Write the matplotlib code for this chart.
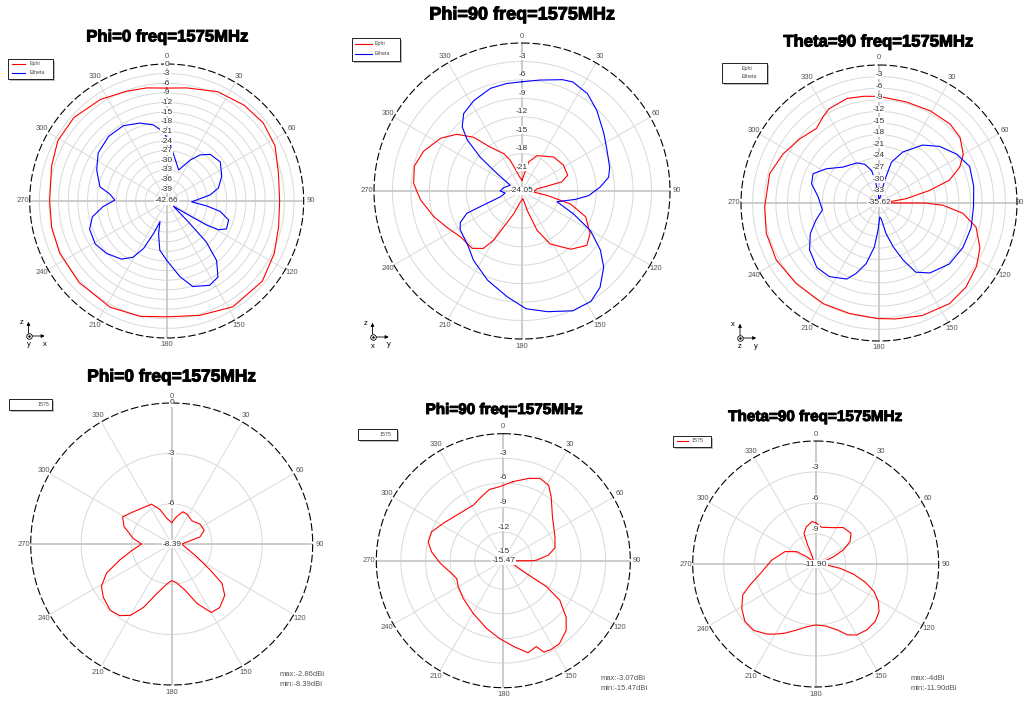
import numpy as np
import matplotlib
matplotlib.use("Agg")
import matplotlib.pyplot as plt
from matplotlib.patches import Rectangle, FancyArrowPatch
from matplotlib.lines import Line2D
from matplotlib import transforms
import matplotlib.patheffects as pe

W, H = 1025, 709
plt.rcParams['font.family'] = ['Liberation Sans', 'DejaVu Sans']

# ---- textos y escalas ----
TITLES = ["Phi=0 freq=1575MHz", "Phi=90 freq=1575MHz", "Theta=90 freq=1575MHz",
          "Phi=0 freq=1575MHz", "Phi=90 freq=1575MHz", "Theta=90 freq=1575MHz"]
R_MIN = [-42.66, -24.05, -35.62, -8.39, -15.47, -11.90]
RINGS = [[0, -3, -6, -9, -12, -15, -18, -21, -24, -27, -30, -33, -36, -39],
         [0, -3, -6, -9, -12, -15, -18, -21],
         [0, -3, -6, -9, -12, -15, -18, -21, -24, -27, -30, -33],
         [0, -3, -6],
         [0, -3, -6, -9, -12, -15],
         [0, -3, -6, -9]]
THETA_LABELS = [0, 30, 60, 90, 120, 150, 180, 210, 240, 270, 300, 330]
MAX_MIN = [None, None, None,
           ("max:-2.86dBi", "min:-8.39dBi"),
           ("max:-3.07dBi", "min:-15.47dBi"),
           ("max:-4dBi", "min:-11.90dBi")]

# ---- Phi=0 (Ephi / Etheta) ----
P1_EPHI_DEG = [0, 10, 25, 39, 51, 63, 76, 90, 103, 116, 130, 148, 164, 180, 193, 208,
               227, 244, 257, 270, 287, 299, 312, 327, 340, 350]
P1_EPHI_DB = [-7.5, -6.9, -5.1, -4.3, -4.0, -4.8, -6.8, -7.5, -6.9, -5.4, -3.8, -3.8, -5.6,
              -6.6, -5.8, -5.2, -5.4, -5.6, -5.9, -6.2, -5.2, -3.9, -3.8, -4.9, -6.3, -6.9]
P1_ETH_DEG = [3, 12, 21, 30, 36, 43, 54, 66, 76, 82, 88, 92, 97, 101, 107, 115, 119, 121,
              123, 128, 134, 136, 140, 146, 153, 163, 170, 180, 188, 194, 198, 202, 206,
              211, 218, 229, 239, 250, 258, 265, 271, 277, 282, 294, 305, 318, 330, 341,
              350, 357]
P1_ETH_DB = [-24.6, -29.6, -32.3, -27.9, -24.9, -22.8, -22.0, -23.9, -26.1, -29.0, -33.3,
             -34.9, -30.1, -25.7, -22.5, -22.1, -24.2, -28.1, -35.3, -40.0, -33.3, -24.9,
             -18.5, -14.1, -13.2, -14.8, -18.7, -24.2, -27.2, -32.2, -35.9, -31.7, -26.2,
             -22.2, -19.7, -17.8, -16.7, -17.1, -19.0, -22.8, -26.5, -24.8, -21.4, -18.8,
             -16.6, -15.6, -15.6, -17.0, -18.6, -21.0]

# ---- Phi=90 (Ephi / Etheta) ----
P2_EPHI_DEG = [0, 13, 23, 43, 58, 71, 77, 79, 82, 95, 100, 105, 112, 122, 130, 140, 152,
               159, 165, 173, 189, 200, 207, 210, 214, 221, 233, 244, 254, 265, 274, 283,
               292, 303, 311, 318, 324, 334, 339, 343, 350]
P2_EPHI_DB = [-22.3, -19.2, -17.8, -16.5, -16.1, -16.2, -17.4, -19.9, -21.6, -22.2, -19.9,
              -15.9, -12.9, -11.0, -10.3, -11.7, -14.3, -17.2, -20.8, -22.8, -22.2, -20.1,
              -17.5, -14.8, -12.8, -11.7, -11.6, -10.5, -9.1, -7.5, -6.4, -6.1, -6.8, -8.3,
              -10.0, -12.3, -15.2, -17.3, -18.7, -20.3, -21.7]
P2_ETH_DEG = [0, 9, 20, 25, 34, 43, 55, 64, 75, 81, 87, 94, 99, 107, 114, 120, 127, 133,
              141, 148, 157, 168, 178, 188, 201, 215, 224, 238, 243, 248, 250, 255, 263,
              270, 280, 296, 305, 309, 313, 317, 323, 332, 343, 352]
P2_ETH_DB = [-6.3, -5.8, -4.8, -4.5, -5.0, -6.2, -7.8, -8.7, -9.3, -9.8, -11.3, -13.2,
             -15.3, -18.1, -14.9, -11.2, -8.1, -5.9, -3.9, -2.9, -2.9, -4.0, -4.9, -6.7,
             -8.5, -10.3, -11.5, -12.2, -12.8, -14.4, -17.4, -20.4, -21.3, -20.5, -21.0,
             -21.9, -19.1, -15.3, -11.9, -9.8, -8.3, -7.4, -6.6, -6.4]

# ---- Theta=90 (Ephi / Etheta) ----
P3_EPHI_DEG = [0, 15, 29, 42, 51, 60, 66, 72, 76, 81, 85, 90, 90, 92, 97, 104, 114, 123,
               134, 145, 159, 172, 181, 195, 209, 226, 241, 255, 268, 285, 297, 309, 320,
               327, 332, 343, 352]
P3_EPHI_DB = [-8.1, -8.6, -8.4, -8.2, -8.7, -10.5, -12.8, -16.5, -22.1, -28.5, -33.7,
              -35.6, -23.8, -19.1, -13.8, -9.8, -7.1, -5.6, -4.4, -3.9, -4.5, -5.4, -5.8,
              -6.1, -5.9, -5.8, -5.3, -5.5, -6.1, -6.4, -7.8, -9.3, -10.5, -9.1, -8.1, -7.4,
              -7.8]
P3_ETH_DEG = [0, 12, 14, 17, 25, 37, 47, 58, 68, 80, 92, 105, 118, 131, 144, 152, 157,
              162, 167, 172, 177, 182, 186, 192, 198, 203, 214, 224, 236, 246, 255, 263,
              276, 286, 294, 303, 315, 331, 340, 347, 350, 355]
P3_ETH_DB = [-34.9, -34.0, -29.6, -24.6, -21.1, -16.9, -14.2, -11.9, -10.4, -10.8, -11.2,
             -11.0, -11.1, -11.6, -13.3, -15.4, -19.6, -23.7, -27.5, -31.5, -32.0, -28.6,
             -24.2, -19.6, -16.5, -14.3, -12.7, -12.5, -14.0, -16.2, -18.8, -20.9, -19.8,
             -17.5, -17.0, -19.4, -22.5, -23.8, -25.0, -27.0, -29.2, -32.8]

# ---- ganancia total 1575 ----
P4_DEG = [0, 10, 19, 27, 41, 55, 67, 76, 80, 90, 106, 117, 124, 128, 134, 143, 150, 157,
          164, 173, 180, 187, 197, 204, 210, 216, 223, 232, 239, 246, 253, 262, 270, 278,
          290, 299, 310, 333, 341, 349]
P4_DB = [-7.12, -6.74, -6.36, -6.39, -6.56, -6.33, -6.29, -6.65, -7.28, -7.79, -7.46,
         -6.72, -5.63, -4.6, -4.0, -3.65, -3.68, -4.56, -5.54, -6.07, -6.21, -5.99, -5.28,
         -4.26, -3.49, -3.12, -3.01, -3.23, -3.51, -4.15, -5.17, -6.09, -6.6, -6.09, -5.37,
         -5.05, -5.41, -5.73, -6.21, -6.82]
P5_DEG = [7, 17, 24, 31, 37, 48, 65, 76, 83, 89, 90, 91, 114, 119, 121, 125, 132, 138,
          146, 152, 156, 159, 165, 173, 183, 194, 210, 227, 240, 249, 258, 268, 277, 284,
          292, 302, 314, 332, 341, 349, 357]
P5_DB = [-5.77, -4.99, -4.49, -4.75, -5.77, -7.42, -8.53, -8.97, -9.94, -11.41, -11.8,
         -14.86, -13.69, -12.24, -9.32, -7.07, -5.17, -4.03, -3.26, -3.19, -3.29, -4.26,
         -3.86, -4.93, -6.0, -6.98, -8.09, -8.78, -9.14, -9.39, -8.84, -7.75, -6.67, -6.05,
         -6.06, -6.86, -7.52, -7.77, -7.24, -6.63, -6.45]
P6_DEG = [0, 9, 26, 37, 49, 57, 63, 68, 73, 95, 100, 105, 110, 115, 121, 127, 134, 142,
          150, 156, 162, 171, 180, 188, 196, 204, 210, 215, 223, 231, 239, 247, 252, 260,
          275, 292, 303, 309, 318, 336, 337, 339, 346, 355]
P6_DB = [-7.9, -8.3, -7.99, -7.48, -7.37, -7.94, -8.9, -10.05, -11.13, -10.83, -9.51,
         -8.13, -6.83, -5.7, -4.83, -4.23, -3.9, -3.83, -3.97, -4.4, -5.2, -5.83, -6.0,
         -5.77, -5.26, -4.57, -4.07, -3.63, -3.12, -3.08, -3.55, -4.23, -5.17, -6.44, -7.63,
         -8.7, -9.71, -10.78, -11.6, -11.1, -9.9, -8.73, -8.18, -7.78]

SERIES = [[(P1_EPHI_DEG, P1_EPHI_DB, 'red'), (P1_ETH_DEG, P1_ETH_DB, 'blue')],
          [(P2_EPHI_DEG, P2_EPHI_DB, 'red'), (P2_ETH_DEG, P2_ETH_DB, 'blue')],
          [(P3_EPHI_DEG, P3_EPHI_DB, 'red'), (P3_ETH_DEG, P3_ETH_DB, 'blue')],
          [(P4_DEG, P4_DB, 'red')],
          [(P5_DEG, P5_DB, 'red')],
          [(P6_DEG, P6_DB, 'red')]]

# posicion de cada panel en pixeles: cx, cy, R, titulo x, titulo y, tamaño, desfase etiquetas, mostrar "0"
LAYOUT = [(166.7, 201, 137, 167, 37, 12, 0, True),
          (522, 191, 148, 522, 15, 13, 5, False),
          (879, 203, 138, 878, 42, 12, 2, False),
          (171.7, 544, 141, 172, 377, 12.5, 0, True),
          (503.3, 560.7, 127, 504, 410, 11, 5, False),
          (815.7, 564, 123, 815, 417, 11, 5, False)]

fig = plt.figure(figsize=(W / 100, H / 100), dpi=100)
fig.patch.set_facecolor('white')


def fx(x):
    return x / W


def fy(y):
    return 1 - y / H


full = np.linspace(0, 2 * np.pi, 361)

for i in range(6):
    cx, cy, R, tx, ty, tsize, lab_dy, show_r0 = LAYOUT[i]
    rmin = R_MIN[i]
    span = -rmin
    ax = fig.add_axes([fx(cx - R), fy(cy + R), 2 * R / W, 2 * R / H], projection='polar')
    ax.set_theta_zero_location('N')
    ax.set_theta_direction(-1)
    ax.set_ylim(rmin, 0)
    ax.set_xticks([])
    ax.set_yticks([])
    ax.grid(False)
    ax.spines['polar'].set_visible(False)

    # anillos y radios
    for v in RINGS[i][1:]:
        ax.plot(full, np.full_like(full, v), color='#d9d9d9', lw=0.7, zorder=1)
    for a in THETA_LABELS:
        main = a % 90 == 0
        ax.plot([np.radians(a)] * 2, [rmin, 0], color='#cccccc' if main else '#dadada',
                lw=1.4 if main else 0.7, zorder=1)
    ax.plot(full, np.zeros_like(full), color='black', lw=0.8, ls=(0, (7, 2.5)),
            zorder=3, clip_on=False)

    # etiquetas de angulo
    r_out = 7 * span / R
    for a in THETA_LABELS:
        if cx + R + 12 > W and a == 90:
            # no cabe a la derecha: se pega al borde
            fig.text(fx(W - 1), fy(cy), str(a), ha='right', va='center', fontsize=5.5,
                     color='#555555')
            continue
        ax.text(np.radians(a), r_out, str(a), ha='center', va='center', fontsize=5.5,
                color='#555555', clip_on=False)

    # etiquetas radiales
    tr = transforms.offset_copy(ax.transData, fig=fig, x=0, y=lab_dy, units='dots')
    for v in RINGS[i]:
        if v == 0 and not show_r0:
            continue
        ax.text(0, v, str(v), transform=tr, ha='center', va='center', fontsize=6,
                color='#333333', zorder=5,
                bbox=dict(facecolor='white', edgecolor='none', pad=0.3))
    ax.text(0, rmin, f"{rmin:.2f}", ha='center', va='center', fontsize=6,
            color='#333333', zorder=5,
            bbox=dict(facecolor='white', edgecolor='none', pad=0.3))

    # curvas
    for deg, db, col in SERIES[i]:
        th = np.radians(list(deg) + [deg[0]])
        rr = list(db) + [db[0]]
        ax.plot(th, rr, color=col, lw=0.8, zorder=4)

    fig.text(fx(tx), fy(ty), TITLES[i], ha='center', va='center', fontsize=tsize,
             fontweight='bold',
             path_effects=[pe.withStroke(linewidth=0.7, foreground='black')])

    if MAX_MIN[i] is not None:
        mx, mn = MAX_MIN[i]
        lx, ly = {3: (280, 675), 4: (601, 678), 5: (911, 679)}[i]
        fig.text(fx(lx), fy(ly), mx, ha='left', va='center', fontsize=5.5, color='#555555')
        fig.text(fx(lx), fy(ly + 10), mn, ha='left', va='center', fontsize=5.5,
                 color='#555555')


# leyendas pequeñas con sombra
def legend_box(x0, y0, x1, y1, entries):
    fig.add_artist(Rectangle((fx(x0 + 2), fy(y1 + 2)), (x1 - x0) / W, (y1 - y0) / H,
                             transform=fig.transFigure, facecolor='#bdbdbd',
                             edgecolor='none'))
    fig.add_artist(Rectangle((fx(x0), fy(y1)), (x1 - x0) / W, (y1 - y0) / H,
                             transform=fig.transFigure, facecolor='white',
                             edgecolor='black', lw=0.6))
    for y, col, text, lx0, lx1, ttx in entries:
        if col is not None:
            fig.add_artist(Line2D([fx(lx0), fx(lx1)], [fy(y), fy(y)], color=col, lw=0.8,
                                  transform=fig.transFigure))
        fig.text(fx(ttx), fy(y), text, ha='left', va='center', fontsize=3.8,
                 color='#444444')


legend_box(8, 59, 53, 79, [(63.5, 'red', 'Ephi', 12, 25, 30),
                           (73, 'blue', 'Etheta', 12, 25, 30)])
legend_box(352, 38, 400, 61, [(43.5, 'red', 'Ephi', 355, 372, 375),
                              (53.5, 'blue', 'Etheta', 355, 372, 375)])
legend_box(722, 63, 767, 83, [(68.5, None, 'Ephi', 0, 0, 742),
                              (76.5, None, 'Etheta', 0, 0, 742)])
legend_box(9, 399, 52, 410, [(404, None, '1575', 0, 0, 38)])
legend_box(358, 429, 397, 440, [(434, None, '1575', 0, 0, 380)])
legend_box(673, 436, 711, 447, [(441, 'red', '1575', 677, 688, 692)])


# triedros de ejes
def triad(ox, oy, up, right, center):
    fig.add_artist(FancyArrowPatch((fx(ox), fy(oy)), (fx(ox), fy(oy - 17)),
                                   transform=fig.transFigure, arrowstyle='-|>',
                                   mutation_scale=5, lw=0.6, color='black'))
    fig.add_artist(FancyArrowPatch((fx(ox), fy(oy)), (fx(ox + 19), fy(oy)),
                                   transform=fig.transFigure, arrowstyle='-|>',
                                   mutation_scale=5, lw=0.6, color='black'))
    fig.add_artist(Line2D([fx(ox)], [fy(oy)], marker='o', ms=4, mfc='white', mec='black',
                          mew=0.6, transform=fig.transFigure))
    fig.add_artist(Line2D([fx(ox)], [fy(oy)], marker='.', ms=1.5, color='black',
                          transform=fig.transFigure))
    fig.text(fx(ox - 7), fy(oy - 13), up, ha='center', va='center', fontsize=5.5)
    fig.text(fx(ox + 16), fy(oy + 8), right, ha='center', va='center', fontsize=5.5)
    fig.text(fx(ox), fy(oy + 9), center, ha='center', va='center', fontsize=5.5)


triad(28.5, 336, 'z', 'x', 'y')
triad(372.5, 337, 'z', 'y', 'x')
triad(740, 338, 'x', 'y', 'z')

fig.savefig('out.png', dpi=100, facecolor='white')
